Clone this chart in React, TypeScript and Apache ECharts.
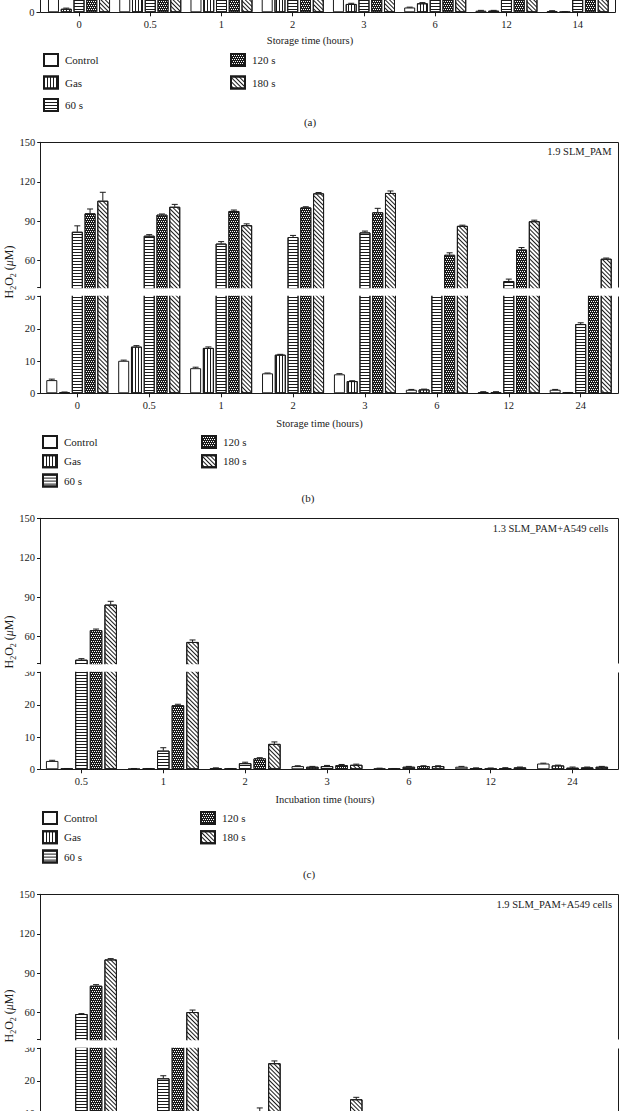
import React, { useEffect, useRef } from 'react';
import * as echarts from 'echarts';

// ---------------- data ----------------
const seriesNames = ['Control', 'Gas', '60 s', '120 s', '180 s'];

// (a) storage, only the bottom of the panel is in view
const hoursA = ['0', '0.5', '1', '2', '3', '6', '12', '14'];
const controlA = [5.5, 9.5, 8.0, 6.5, 5.0, 1.5, 0.5, 0.4];
const gasA = [1.1, 13.5, 12.5, 10.5, 2.6, 2.8, 0.5, 0.1];
const s60A = [70, 68, 65, 66, 64, 45, 42, 38];
const s120A = [85, 82, 86, 88, 84, 58, 60, 52];
const s180A = [96, 92, 88, 100, 98, 78, 80, 58];
const controlErrA = [0.3, 0.4, 0.3, 0.3, 0.3, 0.1, 0.1, 0.1];
const gasErrA = [0.2, 0.5, 0.4, 0.4, 0.2, 0.2, 0.1, 0.05];
const s60ErrA = [2.5, 1.5, 1.2, 2.0, 1.8, 1.0, 1.5, 0.8];
const s120ErrA = [2.0, 1.0, 1.5, 1.0, 2.5, 1.2, 1.0, 0.6];
const s180ErrA = [3.0, 1.5, 1.0, 0.8, 1.2, 0.6, 0.8, 0.5];

// (b) 1.9 SLM_PAM storage
const hoursB = ['0', '0.5', '1', '2', '3', '6', '12', '24'];
const controlB = [4.1, 10.1, 7.8, 6.2, 5.9, 1.1, 0.4, 1.1];
const gasB = [0.3, 14.5, 14.1, 12.0, 3.8, 1.2, 0.4, 0.2];
const s60B = [82, 79, 73, 78, 81.5, 35, 44.5, 21.5];
const s120B = [96, 95, 97.8, 100.5, 96.8, 64.5, 68.5, 35];
const s180B = [105.6, 101, 87, 111.2, 111.5, 86.5, 90, 61.5];
const controlErrB = [0.3, 0.2, 0.3, 0.1, 0.2, 0.1, 0.1, 0.1];
const gasErrB = [0.1, 0.3, 0.3, 0.1, 0.1, 0.1, 0.1, 0.05];
const s60ErrB = [4.5, 0.8, 1.5, 1.2, 1.0, 0.5, 1.5, 0.4];
const s120ErrB = [3.3, 0.5, 0.7, 0.5, 3.0, 1.5, 1.5, 0.5];
const s180ErrB = [6.4, 1.8, 1.0, 0.6, 1.5, 0.5, 0.8, 0.5];

// (c) 1.3 SLM_PAM + A549 cells
const hoursC = ['0.5', '1', '2', '3', '6', '12', '24'];
const controlC = [2.6, 0.2, 0.4, 1.0, 0.3, 0.8, 1.8];
const gasC = [0.2, 0.2, 0.2, 0.8, 0.2, 0.4, 1.2];
const s60C = [42.5, 5.8, 1.9, 1.0, 0.8, 0.2, 0.5];
const s120C = [65, 19.9, 3.4, 1.3, 1.0, 0.4, 0.6];
const s180C = [84.4, 56, 7.9, 1.4, 1.0, 0.6, 0.8];
const controlErrC = [0.2, 0.05, 0.05, 0.1, 0.05, 0.1, 0.1];
const gasErrC = [0.05, 0.05, 0.05, 0.1, 0.05, 0.05, 0.1];
const s60ErrC = [0.8, 0.9, 0.3, 0.2, 0.1, 0.2, 0.2];
const s120ErrC = [0.8, 0.3, 0.2, 0.2, 0.1, 0.1, 0.1];
const s180ErrC = [2.5, 1.5, 0.6, 0.2, 0.1, 0.1, 0.1];

// (d) 1.9 SLM_PAM + A549 cells, only the top of the panel is in view
const hoursD = ['0.5', '1', '2', '3', '6', '12', '24'];
const controlD = [2.4, 0.5, 0.6, 1.2, 0.4, 0.8, 1.5];
const gasD = [0.4, 0.3, 0.3, 0.9, 0.3, 0.5, 1.0];
const s60D = [59, 20.8, 3.5, 2.0, 1.0, 0.5, 0.6];
const s120D = [80.5, 35, 10.5, 4.5, 1.2, 0.6, 0.8];
const s180D = [100.5, 60.5, 25.5, 14.3, 2.0, 1.0, 1.2];
const controlErrD = [0.2, 0.05, 0.1, 0.1, 0.05, 0.1, 0.1];
const gasErrD = [0.05, 0.05, 0.05, 0.1, 0.05, 0.05, 0.1];
const s60ErrD = [0.3, 0.8, 0.4, 0.2, 0.1, 0.1, 0.1];
const s120ErrD = [0.8, 0.5, 1.1, 0.3, 0.1, 0.1, 0.1];
const s180ErrD = [0.6, 1.5, 0.7, 0.6, 0.2, 0.1, 0.1];

const lowerTicks = [0, 10, 20, 30];
const upperTicks = [40, 60, 90, 120, 150];
const upperLabels = [60, 90, 120, 150];
// labels of the partly visible panels that stay inside the picture
const lowerLabelsA = [0];
const lowerLabelsD = [10, 20, 30];

// ---------------- style ----------------
const FONT = '"Liberation Serif", "Times New Roman", Times, serif';
const INK = '#1a1a1a';

const barLooks: any[] = [
  { color: '#ffffff' },
  { color: '#ffffff', decal: { symbol: 'rect', symbolSize: 1, color: INK, dashArrayX: [1, 2], dashArrayY: [1, 0] } },
  { color: '#ffffff', decal: { symbol: 'rect', symbolSize: 1, color: INK, dashArrayX: [1, 0], dashArrayY: [1, 2] } },
  { color: INK, decal: { symbol: 'rect', symbolSize: 1, color: '#ffffff', dashArrayX: [[1, 1], [0, 2], [0, 1, 1, 0], [0, 2]], dashArrayY: [1, 0] } },
  { color: '#ffffff', decal: { symbol: 'rect', symbolSize: 1, color: INK, dashArrayX: [1, 0], dashArrayY: [1, 2], rotation: Math.PI / 4 } },
];

const LOWER_PX = 96.6 / 30;
const UPPER_PX = 144.7 / 110;
const LOWER_MAX = 31;
const UPPER_MIN = 38;
const UPPER_MAX = 150;
const BREAK_HIGH = 40;
const PANEL_SPAN = 251;

const panels = [
  { cats: hoursA, values: [controlA, gasA, s60A, s120A, s180A], errors: [controlErrA, gasErrA, s60ErrA, s120ErrA, s180ErrA],
    axisX: 40, rightX: 615, gridLeft: 43.4, gridWidth: 569.9, yBottom: 12.3, hasUpper: false, barWidth: 11, gapPct: 16,
    lowerLabels: lowerLabelsA, showCats: true },
  { cats: hoursB, values: [controlB, gasB, s60B, s120B, s180B], errors: [controlErrB, gasErrB, s60ErrB, s120ErrB, s180ErrB],
    axisX: 40.7, rightX: 618.3, gridLeft: 41.35, gridWidth: 575.3, yBottom: 393.3, hasUpper: true, barWidth: 11, gapPct: 16,
    lowerLabels: lowerTicks, showCats: true },
  { cats: hoursC, values: [controlC, gasC, s60C, s120C, s180C], errors: [controlErrC, gasErrC, s60ErrC, s120ErrC, s180ErrC],
    axisX: 40.5, rightX: 618.3, gridLeft: 40.5, gridWidth: 573, yBottom: 769.3, hasUpper: true, barWidth: 12.5, gapPct: 17,
    lowerLabels: lowerTicks, showCats: true },
  { cats: hoursD, values: [controlD, gasD, s60D, s120D, s180D], errors: [controlErrD, gasErrD, s60ErrD, s120ErrD, s180ErrD],
    axisX: 40.5, rightX: 618.3, gridLeft: 40.5, gridWidth: 573, yBottom: 1145.3, hasUpper: true, barWidth: 12.5, gapPct: 17,
    lowerLabels: lowerLabelsD, showCats: false },
];

const crisp = (v: number) => Math.round(v - 0.5) + 0.5;

function line(x1: number, y1: number, x2: number, y2: number) {
  return { type: 'line', z: 120, silent: true, shape: { x1, y1, x2, y2 }, style: { stroke: INK, lineWidth: 1 } };
}

function text(x: number, y: number, str: string, size: number, align = 'center') {
  return {
    type: 'text', z: 120, silent: true, x, y,
    style: { text: str, fontFamily: FONT, fontSize: size, fill: INK, align, verticalAlign: 'middle', textAlign: align, textVerticalAlign: 'middle' },
  };
}

function yTitle(x: number, y: number) {
  return {
    type: 'text', z: 120, silent: true, x, y, rotation: Math.PI / 2,
    style: {
      text: '{n|H}{s|2}{n|O}{s|2}{n| (}{i|μ}{n|M)}',
      align: 'center', verticalAlign: 'middle', textAlign: 'center', textVerticalAlign: 'middle',
      fontFamily: FONT, fontSize: 12, fill: INK,
      rich: {
        n: { fontFamily: FONT, fontSize: 12, fill: INK, lineHeight: 16, verticalAlign: 'middle' },
        s: { fontFamily: FONT, fontSize: 8, fill: INK, lineHeight: 16, verticalAlign: 'bottom' },
        i: { fontFamily: FONT, fontSize: 12, fill: INK, fontStyle: 'italic', lineHeight: 16, verticalAlign: 'middle' },
      },
    },
  };
}

function buildOption() {
  const grid: any[] = [];
  const xAxis: any[] = [];
  const yAxis: any[] = [];
  const series: any[] = [];
  const elements: any[] = [];

  panels.forEach((p) => {
    const yTop = p.yBottom - PANEL_SPAN;
    const step = p.barWidth * (1 + p.gapPct / 100);
    const segs = p.hasUpper ? ['upper', 'lower'] : ['lower'];
    segs.forEach((seg) => {
      const gi = grid.length;
      const upper = seg === 'upper';
      grid.push(upper
        ? { left: p.gridLeft, width: p.gridWidth, top: yTop, height: (UPPER_MAX - UPPER_MIN) * UPPER_PX, outerBoundsMode: 'none', containLabel: false }
        : { left: p.gridLeft, width: p.gridWidth, top: p.yBottom - LOWER_MAX * LOWER_PX, height: LOWER_MAX * LOWER_PX, outerBoundsMode: 'none', containLabel: false });
      const showCats = !upper && p.showCats;
      xAxis.push({
        gridIndex: gi, type: 'category', data: p.cats,
        axisLine: { show: false },
        axisTick: upper ? { show: false } : { show: true, alignWithLabel: true, length: 4, lineStyle: { color: INK, width: 1 } },
        axisLabel: showCats ? { show: true, margin: 6.5, color: INK, fontFamily: FONT, fontSize: 10.5 } : { show: false },
        splitLine: { show: false },
      });
      yAxis.push({
        gridIndex: gi, type: 'value',
        min: upper ? UPPER_MIN : 0, max: upper ? UPPER_MAX : LOWER_MAX,
        offset: p.gridLeft - p.axisX,
        axisLine: { show: true, lineStyle: { color: INK, width: 1 } },
        axisTick: { show: true, length: 3.5, customValues: upper ? upperTicks : lowerTicks, lineStyle: { color: INK, width: 1 } },
        axisLabel: { show: true, margin: 5.5, customValues: upper ? upperLabels : p.lowerLabels, color: INK, fontFamily: FONT, fontSize: 10.5 },
        splitLine: { show: false },
      });
      p.values.forEach((vals, si) => {
        series.push({
          type: 'bar', name: seriesNames[si], xAxisIndex: gi, yAxisIndex: gi,
          barWidth: p.barWidth, barGap: p.gapPct + '%',
          clip: true, silent: true,
          itemStyle: { ...barLooks[si], borderColor: INK, borderWidth: 1 },
          data: vals.map((v) => (upper ? (v >= BREAK_HIGH ? v : '-') : v)),
        });
      });
      const errItems: number[][] = [];
      p.values.forEach((vals, si) => {
        vals.forEach((v, ci) => {
          const e = p.errors[si][ci];
          if (upper ? v >= BREAK_HIGH : v + e <= 30.5) errItems.push([ci, si, v, e]);
        });
      });
      series.push({
        type: 'custom', xAxisIndex: gi, yAxisIndex: gi, silent: true, clip: true, z: 5,
        encode: { x: 0, y: 2 },
        data: errItems,
        renderItem: (params: any, api: any) => {
          const ci = api.value(0);
          const si = api.value(1);
          const v = api.value(2);
          const e = api.value(3);
          const b = api.coord([ci, v]);
          const t = api.coord([ci, v + e]);
          const x = b[0] + (si - 2) * step;
          return {
            type: 'group',
            children: [
              { type: 'line', shape: { x1: x, y1: b[1], x2: x, y2: t[1] }, style: { stroke: INK, lineWidth: 1 } },
              { type: 'line', shape: { x1: x - 3, y1: t[1], x2: x + 3, y2: t[1] }, style: { stroke: INK, lineWidth: 1 } },
            ],
          };
        },
      });
    });

    // frame
    const yb = crisp(p.yBottom);
    const rx = crisp(p.rightX);
    const ax = crisp(p.axisX);
    elements.push(line(ax, yb, rx, yb));
    elements.push(line(rx, crisp(p.yBottom - 30 * LOWER_PX), rx, yb));
    if (p.hasUpper) {
      const yt = crisp(yTop);
      const yBreak = yTop + (UPPER_MAX - BREAK_HIGH) * UPPER_PX;
      elements.push(line(ax, yt, rx, yt));
      elements.push(line(rx, yt, rx, crisp(yBreak)));
      // white gap of the axis break
      elements.push({
        type: 'rect', z: 100, silent: true,
        shape: { x: 20, y: yBreak + 1.2, width: 599, height: (p.yBottom - 30 * LOWER_PX - 0.9) - (yBreak + 1.2) },
        style: { fill: '#ffffff' },
      });
    }
  });

  // texts
  elements.push(text(310, 40.7, 'Storage time (hours)', 10.5));
  elements.push(text(310, 121.7, '(a)', 11));
  elements.push(text(319.5, 423.3, 'Storage time (hours)', 10.5));
  elements.push(text(308, 498.3, '(b)', 11));
  elements.push(text(325, 799.3, 'Incubation time (hours)', 10.5));
  elements.push(text(309, 874.3, '(c)', 11));
  elements.push(text(611.7, 151.7, '1.9 SLM_PAM', 10.5, 'right'));
  elements.push(text(608.3, 528.3, '1.3 SLM_PAM+A549 cells', 10.5, 'right'));
  elements.push(text(612, 904, '1.9 SLM_PAM+A549 cells', 10.5, 'right'));
  elements.push(yTitle(9, 272));
  elements.push(yTitle(9, 642));
  elements.push(yTitle(9, 1016));

  const legendBase = {
    orient: 'vertical', icon: 'rect', itemWidth: 14, itemHeight: 12, padding: 0, selectedMode: false,
    textStyle: { color: INK, fontFamily: FONT, fontSize: 11, lineHeight: 12, padding: [0, 0, 0, 2] },
  };
  const legend = [
    { ...legendBase, data: seriesNames.slice(0, 3), left: 43, top: 53, itemGap: 8.5 },
    { ...legendBase, data: seriesNames.slice(3), left: 230, top: 53, itemGap: 8.5 },
    { ...legendBase, data: seriesNames.slice(0, 3), left: 42, top: 435, itemGap: 5.3 },
    { ...legendBase, data: seriesNames.slice(3), left: 201, top: 435, itemGap: 5.3 },
    { ...legendBase, data: seriesNames.slice(0, 3), left: 42, top: 811, itemGap: 5.3 },
    { ...legendBase, data: seriesNames.slice(3), left: 200, top: 811, itemGap: 5.3 },
  ];

  return {
    animation: false,
    backgroundColor: '#ffffff',
    textStyle: { fontFamily: FONT },
    grid, xAxis, yAxis, series, legend,
    graphic: { elements },
  };
}

export default function App() {
  const ref = useRef<HTMLDivElement>(null);
  useEffect(() => {
    document.body.style.margin = '0';
    const chart = echarts.init(ref.current as HTMLDivElement, null, { renderer: 'svg' });
    chart.setOption(buildOption() as any);
    return () => chart.dispose();
  }, []);
  return <div ref={ref} style={{ width: 619, height: 1111 }} />;
}
